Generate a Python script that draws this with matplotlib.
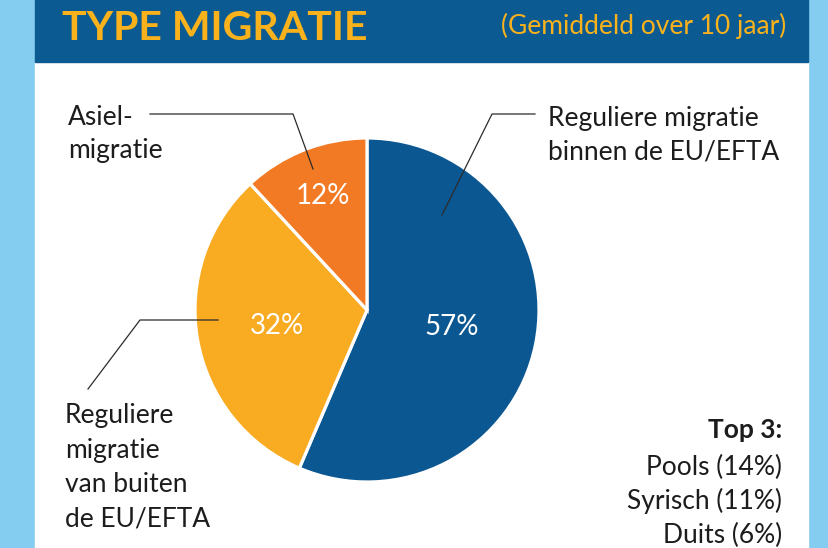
import matplotlib.pyplot as plt
import matplotlib.patches as mpatches
import numpy as np

plt.rcParams['font.family'] = ['Lato', 'DejaVu Sans']

# data
categories = ['Reguliere migratie binnen de EU/EFTA',
              'Reguliere migratie van buiten de EU/EFTA',
              'Asielmigratie']
shares = [57, 32, 12]
colors = ['#0b5791', '#f9ab22', '#f37a24']
top3_title = 'Top 3:'
top3_lines = ['Pools (14%)', 'Syrisch (11%)', 'Duits (6%)']

W, H = 829, 548
fig = plt.figure(figsize=(W / 100, H / 100), dpi=100)
ax = fig.add_axes([0, 0, 1, 1])
ax.set_xlim(0, W)
ax.set_ylim(0, H)
ax.set_aspect('equal')
ax.axis('off')

def fy(y):
    # pixel row (from top) -> data y
    return H - y

# background: light blue border, white panel, dark blue header
ax.add_patch(mpatches.Rectangle((0, 0), W, H, color='#84cdf1', zorder=0))
ax.add_patch(mpatches.Rectangle((35, 0), 808 - 35, fy(62), color='white', zorder=1))
ax.add_patch(mpatches.Rectangle((35, fy(62)), 808 - 35, 62, color='#0b5a92', zorder=1))

ax.text(62, fy(40), 'TYPE MIGRATIE', color='#f9b21b', fontsize=29.5, fontweight='bold',
        ha='left', va='baseline', zorder=3)
ax.text(786, fy(34), '(Gemiddeld over 10 jaar)', color='#f9b21b', fontsize=19,
        ha='right', va='baseline', zorder=3)

# pie
cx, cy, R = 367, fy(310), 172
wedges, _ = ax.pie(shares, colors=colors, startangle=90, counterclock=False,
                   center=(cx, cy), radius=R, frame=True,
                   wedgeprops=dict(edgecolor='white', linewidth=2.3))
for w in wedges:
    w.set_zorder(2)
ax.set_xlim(0, W)
ax.set_ylim(0, H)
ax.axis('off')

# percentage labels inside wedges
pct_dist = [0.50, 0.53, 0.71]
for w, s, d in zip(wedges, shares, pct_dist):
    ang = np.deg2rad((w.theta1 + w.theta2) / 2)
    ax.text(cx + d * R * np.cos(ang), cy + d * R * np.sin(ang), f'{s}%',
            color='white', fontsize=20,
            ha='center', va='center', zorder=3)

# leader lines
lc = '#2b2b2b'
ax.plot([150, 293, 313], [fy(114), fy(114), fy(169)], color=lc, lw=0.9, zorder=3)
ax.plot([535, 492, 442], [fy(114), fy(114), fy(215)], color=lc, lw=0.9, zorder=3)
ax.plot([88, 140, 218], [fy(389), fy(320), fy(320)], color=lc, lw=0.9, zorder=3)

txt = '#1c1c1c'
fs = 19

def lines(x, ys, texts, ha='left', **kw):
    for y, t in zip(ys, texts):
        ax.text(x, fy(y), t, color=txt, fontsize=fs, ha=ha, va='baseline', zorder=3, **kw)

lines(68, [125, 158], ['Asiel-', 'migratie'])
lines(548, [126, 159], ['Reguliere migratie', 'binnen de EU/EFTA'])
lines(65, [423, 458, 492, 527], ['Reguliere', 'migratie', 'van buiten', 'de EU/EFTA'])
ax.text(782, fy(438), top3_title, color=txt, fontsize=fs, fontweight='bold',
        ha='right', va='baseline', zorder=3)
lines(782, [475, 509, 543], top3_lines, ha='right')

fig.savefig('out.png', dpi=100)
